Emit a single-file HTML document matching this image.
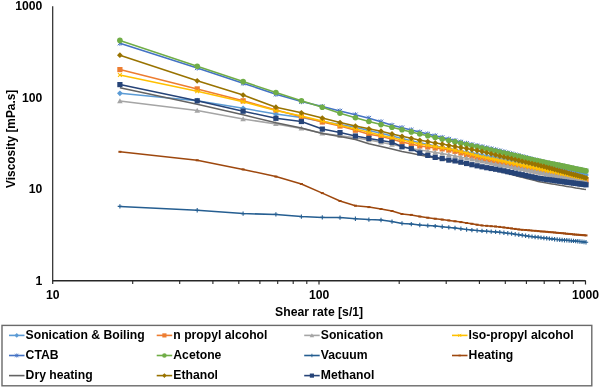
<!DOCTYPE html>
<html><head><meta charset="utf-8"><style>
html,body{margin:0;padding:0;background:#fff;}
svg{display:block;will-change:transform;}
.t{font-family:"Liberation Sans",sans-serif;font-weight:bold;font-size:12.2px;fill:#000;}
</style></head><body>
<svg width="600" height="388" viewBox="0 0 600 388">
<rect width="600" height="388" fill="#fff"/>
<path d="M52.7 6.2V284" stroke="#262626" stroke-width="1.2" fill="none"/><path d="M52.2 280.8H585.8" stroke="#262626" stroke-width="1.4" fill="none"/><path d="M132.7 281V284" stroke="#262626" stroke-width="1.1"/><path d="M179.7 281V284" stroke="#262626" stroke-width="1.1"/><path d="M212.9 281V284" stroke="#262626" stroke-width="1.1"/><path d="M238.8 281V284" stroke="#262626" stroke-width="1.1"/><path d="M259.9 281V284" stroke="#262626" stroke-width="1.1"/><path d="M277.7 281V284" stroke="#262626" stroke-width="1.1"/><path d="M293.2 281V284" stroke="#262626" stroke-width="1.1"/><path d="M306.8 281V284" stroke="#262626" stroke-width="1.1"/><path d="M399.2 281V284" stroke="#262626" stroke-width="1.1"/><path d="M446.2 281V284" stroke="#262626" stroke-width="1.1"/><path d="M479.4 281V284" stroke="#262626" stroke-width="1.1"/><path d="M505.3 281V284" stroke="#262626" stroke-width="1.1"/><path d="M526.4 281V284" stroke="#262626" stroke-width="1.1"/><path d="M544.2 281V284" stroke="#262626" stroke-width="1.1"/><path d="M559.7 281V284" stroke="#262626" stroke-width="1.1"/><path d="M573.3 281V284" stroke="#262626" stroke-width="1.1"/><path d="M319.0 281V284.5" stroke="#262626" stroke-width="1.2"/><path d="M585.5 281V284.5" stroke="#262626" stroke-width="1.2"/>
<g><path d="M119.9 93.3 L197.2 100.7 L243.1 108.3 L275.9 114.1 L301.4 117.6 L322.3 121.6 L340.0 124.6 L355.4 127.3 L368.9 130.4 L381.0 133.3 L392.0 136.0 L402.0 138.5 L411.3 140.7 L419.8 142.8 L427.8 144.4 L435.2 145.9 L442.2 147.2 L448.8 148.5 L455.0 149.7 L460.9 150.9 L466.6 152.0 L471.9 153.0 L477.1 154.0 L482.0 155.0 L486.7 155.9 L491.2 156.7 L495.6 157.6 L499.8 158.4 L503.9 159.1 L507.8 159.9 L511.6 160.6 L515.2 161.3 L518.8 162.0 L522.2 162.6 L525.6 163.3 L528.8 163.9 L532.0 164.5 L535.1 165.1 L538.1 165.6 L541.0 166.2 L543.9 166.7 L546.7 167.3 L549.4 167.8 L552.0 168.3 L554.6 168.8 L557.2 169.3 L559.7 169.8 L562.1 170.3 L564.5 170.7 L566.8 171.2 L569.1 171.6 L571.3 172.1 L573.5 172.5 L575.7 172.9 L577.8 173.3 L579.9 173.7 L582.0 174.1 L584.0 174.5 L586.0 174.9" stroke="#5B9BD5" stroke-width="1.55" fill="none" stroke-linejoin="round"/><path d="M119.9 90.4L122.8 93.3L119.9 96.2L117.0 93.3Z" fill="#5B9BD5"/><path d="M197.2 97.8L200.1 100.7L197.2 103.6L194.3 100.7Z" fill="#5B9BD5"/><path d="M243.1 105.4L246.0 108.3L243.1 111.2L240.2 108.3Z" fill="#5B9BD5"/><path d="M275.9 111.2L278.8 114.1L275.9 117.0L273.0 114.1Z" fill="#5B9BD5"/><path d="M301.4 114.7L304.3 117.6L301.4 120.5L298.5 117.6Z" fill="#5B9BD5"/><path d="M322.3 118.7L325.2 121.6L322.3 124.5L319.4 121.6Z" fill="#5B9BD5"/><path d="M340.0 121.7L342.9 124.6L340.0 127.5L337.1 124.6Z" fill="#5B9BD5"/><path d="M355.4 124.4L358.3 127.3L355.4 130.2L352.5 127.3Z" fill="#5B9BD5"/><path d="M368.9 127.5L371.8 130.4L368.9 133.3L366.0 130.4Z" fill="#5B9BD5"/><path d="M381.0 130.4L383.9 133.3L381.0 136.2L378.1 133.3Z" fill="#5B9BD5"/><path d="M392.0 133.1L394.9 136.0L392.0 138.9L389.1 136.0Z" fill="#5B9BD5"/><path d="M402.0 135.6L404.9 138.5L402.0 141.4L399.1 138.5Z" fill="#5B9BD5"/><path d="M411.3 137.8L414.2 140.7L411.3 143.6L408.4 140.7Z" fill="#5B9BD5"/><path d="M419.8 139.9L422.7 142.8L419.8 145.7L416.9 142.8Z" fill="#5B9BD5"/><path d="M427.8 141.5L430.7 144.4L427.8 147.3L424.9 144.4Z" fill="#5B9BD5"/><path d="M435.2 143.0L438.1 145.9L435.2 148.8L432.3 145.9Z" fill="#5B9BD5"/><path d="M442.2 144.3L445.1 147.2L442.2 150.1L439.3 147.2Z" fill="#5B9BD5"/><path d="M448.8 145.6L451.7 148.5L448.8 151.4L445.9 148.5Z" fill="#5B9BD5"/><path d="M455.0 146.8L457.9 149.7L455.0 152.6L452.1 149.7Z" fill="#5B9BD5"/><path d="M460.9 148.0L463.8 150.9L460.9 153.8L458.0 150.9Z" fill="#5B9BD5"/><path d="M466.6 149.1L469.5 152.0L466.6 154.9L463.7 152.0Z" fill="#5B9BD5"/><path d="M471.9 150.1L474.8 153.0L471.9 155.9L469.0 153.0Z" fill="#5B9BD5"/><path d="M477.1 151.1L480.0 154.0L477.1 156.9L474.2 154.0Z" fill="#5B9BD5"/><path d="M482.0 152.1L484.9 155.0L482.0 157.9L479.1 155.0Z" fill="#5B9BD5"/><path d="M486.7 153.0L489.6 155.9L486.7 158.8L483.8 155.9Z" fill="#5B9BD5"/><path d="M491.2 153.8L494.1 156.7L491.2 159.6L488.3 156.7Z" fill="#5B9BD5"/><path d="M495.6 154.7L498.5 157.6L495.6 160.5L492.7 157.6Z" fill="#5B9BD5"/><path d="M499.8 155.5L502.7 158.4L499.8 161.3L496.9 158.4Z" fill="#5B9BD5"/><path d="M503.9 156.2L506.8 159.1L503.9 162.0L501.0 159.1Z" fill="#5B9BD5"/><path d="M507.8 157.0L510.7 159.9L507.8 162.8L504.9 159.9Z" fill="#5B9BD5"/><path d="M511.6 157.7L514.5 160.6L511.6 163.5L508.7 160.6Z" fill="#5B9BD5"/><path d="M515.2 158.4L518.1 161.3L515.2 164.2L512.3 161.3Z" fill="#5B9BD5"/><path d="M518.8 159.1L521.7 162.0L518.8 164.9L515.9 162.0Z" fill="#5B9BD5"/><path d="M522.2 159.7L525.1 162.6L522.2 165.5L519.3 162.6Z" fill="#5B9BD5"/><path d="M525.6 160.4L528.5 163.3L525.6 166.2L522.7 163.3Z" fill="#5B9BD5"/><path d="M528.8 161.0L531.7 163.9L528.8 166.8L525.9 163.9Z" fill="#5B9BD5"/><path d="M532.0 161.6L534.9 164.5L532.0 167.4L529.1 164.5Z" fill="#5B9BD5"/><path d="M535.1 162.2L538.0 165.1L535.1 168.0L532.2 165.1Z" fill="#5B9BD5"/><path d="M538.1 162.7L541.0 165.6L538.1 168.5L535.2 165.6Z" fill="#5B9BD5"/><path d="M541.0 163.3L543.9 166.2L541.0 169.1L538.1 166.2Z" fill="#5B9BD5"/><path d="M543.9 163.8L546.8 166.7L543.9 169.6L541.0 166.7Z" fill="#5B9BD5"/><path d="M546.7 164.4L549.6 167.3L546.7 170.2L543.8 167.3Z" fill="#5B9BD5"/><path d="M549.4 164.9L552.3 167.8L549.4 170.7L546.5 167.8Z" fill="#5B9BD5"/><path d="M552.0 165.4L554.9 168.3L552.0 171.2L549.1 168.3Z" fill="#5B9BD5"/><path d="M554.6 165.9L557.5 168.8L554.6 171.7L551.7 168.8Z" fill="#5B9BD5"/><path d="M557.2 166.4L560.1 169.3L557.2 172.2L554.3 169.3Z" fill="#5B9BD5"/><path d="M559.7 166.9L562.6 169.8L559.7 172.7L556.8 169.8Z" fill="#5B9BD5"/><path d="M562.1 167.4L565.0 170.3L562.1 173.2L559.2 170.3Z" fill="#5B9BD5"/><path d="M564.5 167.8L567.4 170.7L564.5 173.6L561.6 170.7Z" fill="#5B9BD5"/><path d="M566.8 168.3L569.7 171.2L566.8 174.1L563.9 171.2Z" fill="#5B9BD5"/><path d="M569.1 168.7L572.0 171.6L569.1 174.5L566.2 171.6Z" fill="#5B9BD5"/><path d="M571.3 169.2L574.2 172.1L571.3 175.0L568.4 172.1Z" fill="#5B9BD5"/><path d="M573.5 169.6L576.4 172.5L573.5 175.4L570.6 172.5Z" fill="#5B9BD5"/><path d="M575.7 170.0L578.6 172.9L575.7 175.8L572.8 172.9Z" fill="#5B9BD5"/><path d="M577.8 170.4L580.7 173.3L577.8 176.2L574.9 173.3Z" fill="#5B9BD5"/><path d="M579.9 170.8L582.8 173.7L579.9 176.6L577.0 173.7Z" fill="#5B9BD5"/><path d="M582.0 171.2L584.9 174.1L582.0 177.0L579.1 174.1Z" fill="#5B9BD5"/><path d="M584.0 171.6L586.9 174.5L584.0 177.4L581.1 174.5Z" fill="#5B9BD5"/><path d="M586.0 172.0L588.9 174.9L586.0 177.8L583.1 174.9Z" fill="#5B9BD5"/></g><g><path d="M119.9 69.6 L197.2 88.9 L243.1 100.8 L275.9 110.0 L301.4 116.7 L322.3 122.0 L340.0 126.0 L355.4 130.2 L368.9 134.3 L381.0 136.2 L392.0 139.2 L402.0 141.9 L411.3 144.0 L419.8 146.0 L427.8 147.0 L435.2 148.0 L442.2 148.9 L448.8 150.1 L455.0 151.3 L460.9 153.0 L466.6 154.6 L471.9 156.1 L477.1 157.6 L482.0 158.9 L486.7 159.9 L491.2 160.9 L495.6 161.9 L499.8 162.9 L503.9 163.8 L507.8 164.7 L511.6 165.6 L515.2 166.4 L518.8 167.2 L522.2 168.0 L525.6 168.7 L528.8 169.5 L532.0 170.2 L535.1 170.9 L538.1 171.6 L541.0 172.2 L543.9 172.7 L546.7 173.2 L549.4 173.7 L552.0 174.2 L554.6 174.7 L557.2 175.1 L559.7 175.6 L562.1 176.0 L564.5 176.5 L566.8 176.9 L569.1 177.3 L571.3 177.7 L573.5 178.1 L575.7 178.5 L577.8 178.9 L579.9 179.3 L582.0 179.7 L584.0 180.0 L586.0 180.4" stroke="#ED7D31" stroke-width="1.55" fill="none" stroke-linejoin="round"/><rect x="117.3" y="67.0" width="5.2" height="5.2" fill="#ED7D31"/><rect x="194.6" y="86.3" width="5.2" height="5.2" fill="#ED7D31"/><rect x="240.5" y="98.2" width="5.2" height="5.2" fill="#ED7D31"/><rect x="273.3" y="107.4" width="5.2" height="5.2" fill="#ED7D31"/><rect x="298.8" y="114.1" width="5.2" height="5.2" fill="#ED7D31"/><rect x="319.7" y="119.4" width="5.2" height="5.2" fill="#ED7D31"/><rect x="337.4" y="123.4" width="5.2" height="5.2" fill="#ED7D31"/><rect x="352.8" y="127.6" width="5.2" height="5.2" fill="#ED7D31"/><rect x="366.3" y="131.7" width="5.2" height="5.2" fill="#ED7D31"/><rect x="378.4" y="133.6" width="5.2" height="5.2" fill="#ED7D31"/><rect x="389.4" y="136.6" width="5.2" height="5.2" fill="#ED7D31"/><rect x="399.4" y="139.3" width="5.2" height="5.2" fill="#ED7D31"/><rect x="408.7" y="141.4" width="5.2" height="5.2" fill="#ED7D31"/><rect x="417.2" y="143.4" width="5.2" height="5.2" fill="#ED7D31"/><rect x="425.2" y="144.4" width="5.2" height="5.2" fill="#ED7D31"/><rect x="432.6" y="145.4" width="5.2" height="5.2" fill="#ED7D31"/><rect x="439.6" y="146.3" width="5.2" height="5.2" fill="#ED7D31"/><rect x="446.2" y="147.5" width="5.2" height="5.2" fill="#ED7D31"/><rect x="452.4" y="148.7" width="5.2" height="5.2" fill="#ED7D31"/><rect x="458.3" y="150.4" width="5.2" height="5.2" fill="#ED7D31"/><rect x="464.0" y="152.0" width="5.2" height="5.2" fill="#ED7D31"/><rect x="469.3" y="153.5" width="5.2" height="5.2" fill="#ED7D31"/><rect x="474.5" y="155.0" width="5.2" height="5.2" fill="#ED7D31"/><rect x="479.4" y="156.3" width="5.2" height="5.2" fill="#ED7D31"/><rect x="484.1" y="157.3" width="5.2" height="5.2" fill="#ED7D31"/><rect x="488.6" y="158.3" width="5.2" height="5.2" fill="#ED7D31"/><rect x="493.0" y="159.3" width="5.2" height="5.2" fill="#ED7D31"/><rect x="497.2" y="160.3" width="5.2" height="5.2" fill="#ED7D31"/><rect x="501.3" y="161.2" width="5.2" height="5.2" fill="#ED7D31"/><rect x="505.2" y="162.1" width="5.2" height="5.2" fill="#ED7D31"/><rect x="509.0" y="163.0" width="5.2" height="5.2" fill="#ED7D31"/><rect x="512.6" y="163.8" width="5.2" height="5.2" fill="#ED7D31"/><rect x="516.2" y="164.6" width="5.2" height="5.2" fill="#ED7D31"/><rect x="519.6" y="165.4" width="5.2" height="5.2" fill="#ED7D31"/><rect x="523.0" y="166.1" width="5.2" height="5.2" fill="#ED7D31"/><rect x="526.2" y="166.9" width="5.2" height="5.2" fill="#ED7D31"/><rect x="529.4" y="167.6" width="5.2" height="5.2" fill="#ED7D31"/><rect x="532.5" y="168.3" width="5.2" height="5.2" fill="#ED7D31"/><rect x="535.5" y="169.0" width="5.2" height="5.2" fill="#ED7D31"/><rect x="538.4" y="169.6" width="5.2" height="5.2" fill="#ED7D31"/><rect x="541.3" y="170.1" width="5.2" height="5.2" fill="#ED7D31"/><rect x="544.1" y="170.6" width="5.2" height="5.2" fill="#ED7D31"/><rect x="546.8" y="171.1" width="5.2" height="5.2" fill="#ED7D31"/><rect x="549.4" y="171.6" width="5.2" height="5.2" fill="#ED7D31"/><rect x="552.0" y="172.1" width="5.2" height="5.2" fill="#ED7D31"/><rect x="554.6" y="172.5" width="5.2" height="5.2" fill="#ED7D31"/><rect x="557.1" y="173.0" width="5.2" height="5.2" fill="#ED7D31"/><rect x="559.5" y="173.4" width="5.2" height="5.2" fill="#ED7D31"/><rect x="561.9" y="173.9" width="5.2" height="5.2" fill="#ED7D31"/><rect x="564.2" y="174.3" width="5.2" height="5.2" fill="#ED7D31"/><rect x="566.5" y="174.7" width="5.2" height="5.2" fill="#ED7D31"/><rect x="568.7" y="175.1" width="5.2" height="5.2" fill="#ED7D31"/><rect x="570.9" y="175.5" width="5.2" height="5.2" fill="#ED7D31"/><rect x="573.1" y="175.9" width="5.2" height="5.2" fill="#ED7D31"/><rect x="575.2" y="176.3" width="5.2" height="5.2" fill="#ED7D31"/><rect x="577.3" y="176.7" width="5.2" height="5.2" fill="#ED7D31"/><rect x="579.4" y="177.1" width="5.2" height="5.2" fill="#ED7D31"/><rect x="581.4" y="177.4" width="5.2" height="5.2" fill="#ED7D31"/><rect x="583.4" y="177.8" width="5.2" height="5.2" fill="#ED7D31"/></g><g><path d="M119.9 101.1 L197.2 110.5 L243.1 119.0 L275.9 123.9 L301.4 128.4 L322.3 133.3 L340.0 135.7 L355.4 137.7 L368.9 140.1 L381.0 142.2 L392.0 144.5 L402.0 146.5 L411.3 148.4 L419.8 150.1 L427.8 151.3 L435.2 152.4 L442.2 153.5 L448.8 154.8 L455.0 156.0 L460.9 157.2 L466.6 158.3 L471.9 159.4 L477.1 160.4 L482.0 161.4 L486.7 162.3 L491.2 163.2 L495.6 164.0 L499.8 164.8 L503.9 165.6 L507.8 166.3 L511.6 167.0 L515.2 167.8 L518.8 168.4 L522.2 169.1 L525.6 169.7 L528.8 170.4 L532.0 171.0 L535.1 171.6 L538.1 172.1 L541.0 172.7 L543.9 173.3 L546.7 173.9 L549.4 174.4 L552.0 175.0 L554.6 175.5 L557.2 176.0 L559.7 176.6 L562.1 177.1 L564.5 177.6 L566.8 178.0 L569.1 178.5 L571.3 179.0 L573.5 179.4 L575.7 179.9 L577.8 180.3 L579.9 180.7 L582.0 181.2 L584.0 181.6 L586.0 182.0" stroke="#A5A5A5" stroke-width="1.55" fill="none" stroke-linejoin="round"/><path d="M119.9 98.3L122.7 103.3L117.1 103.3Z" fill="#A5A5A5"/><path d="M197.2 107.7L200.0 112.8L194.4 112.8Z" fill="#A5A5A5"/><path d="M243.1 116.2L245.9 121.3L240.3 121.3Z" fill="#A5A5A5"/><path d="M275.9 121.1L278.7 126.1L273.1 126.1Z" fill="#A5A5A5"/><path d="M301.4 125.6L304.2 130.6L298.6 130.6Z" fill="#A5A5A5"/><path d="M322.3 130.5L325.1 135.6L319.5 135.6Z" fill="#A5A5A5"/><path d="M340.0 132.9L342.8 137.9L337.2 137.9Z" fill="#A5A5A5"/><path d="M355.4 134.9L358.2 140.0L352.6 140.0Z" fill="#A5A5A5"/><path d="M368.9 137.3L371.7 142.3L366.1 142.3Z" fill="#A5A5A5"/><path d="M381.0 139.4L383.8 144.5L378.2 144.5Z" fill="#A5A5A5"/><path d="M392.0 141.7L394.8 146.7L389.2 146.7Z" fill="#A5A5A5"/><path d="M402.0 143.7L404.8 148.8L399.2 148.8Z" fill="#A5A5A5"/><path d="M411.3 145.6L414.1 150.7L408.5 150.7Z" fill="#A5A5A5"/><path d="M419.8 147.3L422.6 152.4L417.0 152.4Z" fill="#A5A5A5"/><path d="M427.8 148.5L430.6 153.6L425.0 153.6Z" fill="#A5A5A5"/><path d="M435.2 149.6L438.0 154.7L432.4 154.7Z" fill="#A5A5A5"/><path d="M442.2 150.7L445.0 155.8L439.4 155.8Z" fill="#A5A5A5"/><path d="M448.8 152.0L451.6 157.0L446.0 157.0Z" fill="#A5A5A5"/><path d="M455.0 153.2L457.8 158.2L452.2 158.2Z" fill="#A5A5A5"/><path d="M460.9 154.4L463.7 159.4L458.1 159.4Z" fill="#A5A5A5"/><path d="M466.6 155.5L469.4 160.6L463.8 160.6Z" fill="#A5A5A5"/><path d="M471.9 156.6L474.7 161.6L469.1 161.6Z" fill="#A5A5A5"/><path d="M477.1 157.6L479.9 162.7L474.3 162.7Z" fill="#A5A5A5"/><path d="M482.0 158.6L484.8 163.6L479.2 163.6Z" fill="#A5A5A5"/><path d="M486.7 159.5L489.5 164.5L483.9 164.5Z" fill="#A5A5A5"/><path d="M491.2 160.4L494.0 165.4L488.4 165.4Z" fill="#A5A5A5"/><path d="M495.6 161.2L498.4 166.2L492.8 166.2Z" fill="#A5A5A5"/><path d="M499.8 162.0L502.6 167.0L497.0 167.0Z" fill="#A5A5A5"/><path d="M503.9 162.8L506.7 167.8L501.1 167.8Z" fill="#A5A5A5"/><path d="M507.8 163.5L510.6 168.6L505.0 168.6Z" fill="#A5A5A5"/><path d="M511.6 164.2L514.4 169.3L508.8 169.3Z" fill="#A5A5A5"/><path d="M515.2 165.0L518.0 170.0L512.4 170.0Z" fill="#A5A5A5"/><path d="M518.8 165.6L521.6 170.7L516.0 170.7Z" fill="#A5A5A5"/><path d="M522.2 166.3L525.0 171.3L519.4 171.3Z" fill="#A5A5A5"/><path d="M525.6 166.9L528.4 172.0L522.8 172.0Z" fill="#A5A5A5"/><path d="M528.8 167.6L531.6 172.6L526.0 172.6Z" fill="#A5A5A5"/><path d="M532.0 168.2L534.8 173.2L529.2 173.2Z" fill="#A5A5A5"/><path d="M535.1 168.8L537.9 173.8L532.3 173.8Z" fill="#A5A5A5"/><path d="M538.1 169.3L540.9 174.4L535.3 174.4Z" fill="#A5A5A5"/><path d="M541.0 169.9L543.8 174.9L538.2 174.9Z" fill="#A5A5A5"/><path d="M543.9 170.5L546.7 175.5L541.1 175.5Z" fill="#A5A5A5"/><path d="M546.7 171.1L549.5 176.1L543.9 176.1Z" fill="#A5A5A5"/><path d="M549.4 171.6L552.2 176.7L546.6 176.7Z" fill="#A5A5A5"/><path d="M552.0 172.2L554.8 177.2L549.2 177.2Z" fill="#A5A5A5"/><path d="M554.6 172.7L557.4 177.8L551.8 177.8Z" fill="#A5A5A5"/><path d="M557.2 173.2L560.0 178.3L554.4 178.3Z" fill="#A5A5A5"/><path d="M559.7 173.8L562.5 178.8L556.9 178.8Z" fill="#A5A5A5"/><path d="M562.1 174.3L564.9 179.3L559.3 179.3Z" fill="#A5A5A5"/><path d="M564.5 174.8L567.3 179.8L561.7 179.8Z" fill="#A5A5A5"/><path d="M566.8 175.2L569.6 180.3L564.0 180.3Z" fill="#A5A5A5"/><path d="M569.1 175.7L571.9 180.8L566.3 180.8Z" fill="#A5A5A5"/><path d="M571.3 176.2L574.1 181.2L568.5 181.2Z" fill="#A5A5A5"/><path d="M573.5 176.6L576.3 181.7L570.7 181.7Z" fill="#A5A5A5"/><path d="M575.7 177.1L578.5 182.1L572.9 182.1Z" fill="#A5A5A5"/><path d="M577.8 177.5L580.6 182.6L575.0 182.6Z" fill="#A5A5A5"/><path d="M579.9 177.9L582.7 183.0L577.1 183.0Z" fill="#A5A5A5"/><path d="M582.0 178.4L584.8 183.4L579.2 183.4Z" fill="#A5A5A5"/><path d="M584.0 178.8L586.8 183.8L581.2 183.8Z" fill="#A5A5A5"/><path d="M586.0 179.2L588.8 184.2L583.2 184.2Z" fill="#A5A5A5"/></g><g><path d="M119.9 75.0 L197.2 91.2 L243.1 101.7 L275.9 110.5 L301.4 116.1 L322.3 121.0 L340.0 125.3 L355.4 129.0 L368.9 132.3 L381.0 135.2 L392.0 137.7 L402.0 139.9 L411.3 142.0 L419.8 143.9 L427.8 145.2 L435.2 146.5 L442.2 147.7 L448.8 148.8 L455.0 150.2 L460.9 151.7 L466.6 153.0 L471.9 154.3 L477.1 155.6 L482.0 156.7 L486.7 157.7 L491.2 158.7 L495.6 159.6 L499.8 160.5 L503.9 161.3 L507.8 162.2 L511.6 163.0 L515.2 163.8 L518.8 164.5 L522.2 165.2 L525.6 165.9 L528.8 166.6 L532.0 167.3 L535.1 168.0 L538.1 168.6 L541.0 169.2 L543.9 169.8 L546.7 170.4 L549.4 170.9 L552.0 171.5 L554.6 172.0 L557.2 172.5 L559.7 173.1 L562.1 173.6 L564.5 174.1 L566.8 174.5 L569.1 175.0 L571.3 175.5 L573.5 175.9 L575.7 176.4 L577.8 176.8 L579.9 177.2 L582.0 177.7 L584.0 178.1 L586.0 178.5" stroke="#FFC000" stroke-width="1.55" fill="none" stroke-linejoin="round"/><path d="M118.0 73.1L121.8 76.9M121.8 73.1L118.0 76.9" stroke="#FFC000" stroke-width="1.2" fill="none"/><path d="M195.3 89.3L199.1 93.1M199.1 89.3L195.3 93.1" stroke="#FFC000" stroke-width="1.2" fill="none"/><path d="M241.2 99.8L245.0 103.6M245.0 99.8L241.2 103.6" stroke="#FFC000" stroke-width="1.2" fill="none"/><path d="M274.0 108.6L277.8 112.4M277.8 108.6L274.0 112.4" stroke="#FFC000" stroke-width="1.2" fill="none"/><path d="M299.5 114.2L303.3 118.0M303.3 114.2L299.5 118.0" stroke="#FFC000" stroke-width="1.2" fill="none"/><path d="M320.4 119.1L324.2 122.9M324.2 119.1L320.4 122.9" stroke="#FFC000" stroke-width="1.2" fill="none"/><path d="M338.1 123.4L341.9 127.2M341.9 123.4L338.1 127.2" stroke="#FFC000" stroke-width="1.2" fill="none"/><path d="M353.5 127.1L357.3 130.9M357.3 127.1L353.5 130.9" stroke="#FFC000" stroke-width="1.2" fill="none"/><path d="M367.0 130.4L370.8 134.2M370.8 130.4L367.0 134.2" stroke="#FFC000" stroke-width="1.2" fill="none"/><path d="M379.1 133.3L382.9 137.1M382.9 133.3L379.1 137.1" stroke="#FFC000" stroke-width="1.2" fill="none"/><path d="M390.1 135.8L393.9 139.6M393.9 135.8L390.1 139.6" stroke="#FFC000" stroke-width="1.2" fill="none"/><path d="M400.1 138.0L403.9 141.8M403.9 138.0L400.1 141.8" stroke="#FFC000" stroke-width="1.2" fill="none"/><path d="M409.4 140.1L413.2 143.9M413.2 140.1L409.4 143.9" stroke="#FFC000" stroke-width="1.2" fill="none"/><path d="M417.9 142.0L421.7 145.8M421.7 142.0L417.9 145.8" stroke="#FFC000" stroke-width="1.2" fill="none"/><path d="M425.9 143.3L429.7 147.1M429.7 143.3L425.9 147.1" stroke="#FFC000" stroke-width="1.2" fill="none"/><path d="M433.3 144.6L437.1 148.4M437.1 144.6L433.3 148.4" stroke="#FFC000" stroke-width="1.2" fill="none"/><path d="M440.3 145.8L444.1 149.6M444.1 145.8L440.3 149.6" stroke="#FFC000" stroke-width="1.2" fill="none"/><path d="M446.9 146.9L450.7 150.7M450.7 146.9L446.9 150.7" stroke="#FFC000" stroke-width="1.2" fill="none"/><path d="M453.1 148.3L456.9 152.1M456.9 148.3L453.1 152.1" stroke="#FFC000" stroke-width="1.2" fill="none"/><path d="M459.0 149.8L462.8 153.6M462.8 149.8L459.0 153.6" stroke="#FFC000" stroke-width="1.2" fill="none"/><path d="M464.7 151.1L468.5 154.9M468.5 151.1L464.7 154.9" stroke="#FFC000" stroke-width="1.2" fill="none"/><path d="M470.0 152.4L473.8 156.2M473.8 152.4L470.0 156.2" stroke="#FFC000" stroke-width="1.2" fill="none"/><path d="M475.2 153.7L479.0 157.5M479.0 153.7L475.2 157.5" stroke="#FFC000" stroke-width="1.2" fill="none"/><path d="M480.1 154.8L483.9 158.6M483.9 154.8L480.1 158.6" stroke="#FFC000" stroke-width="1.2" fill="none"/><path d="M484.8 155.8L488.6 159.6M488.6 155.8L484.8 159.6" stroke="#FFC000" stroke-width="1.2" fill="none"/><path d="M489.3 156.8L493.1 160.6M493.1 156.8L489.3 160.6" stroke="#FFC000" stroke-width="1.2" fill="none"/><path d="M493.7 157.7L497.5 161.5M497.5 157.7L493.7 161.5" stroke="#FFC000" stroke-width="1.2" fill="none"/><path d="M497.9 158.6L501.7 162.4M501.7 158.6L497.9 162.4" stroke="#FFC000" stroke-width="1.2" fill="none"/><path d="M502.0 159.4L505.8 163.2M505.8 159.4L502.0 163.2" stroke="#FFC000" stroke-width="1.2" fill="none"/><path d="M505.9 160.3L509.7 164.1M509.7 160.3L505.9 164.1" stroke="#FFC000" stroke-width="1.2" fill="none"/><path d="M509.7 161.1L513.5 164.9M513.5 161.1L509.7 164.9" stroke="#FFC000" stroke-width="1.2" fill="none"/><path d="M513.3 161.9L517.1 165.7M517.1 161.9L513.3 165.7" stroke="#FFC000" stroke-width="1.2" fill="none"/><path d="M516.9 162.6L520.7 166.4M520.7 162.6L516.9 166.4" stroke="#FFC000" stroke-width="1.2" fill="none"/><path d="M520.3 163.3L524.1 167.1M524.1 163.3L520.3 167.1" stroke="#FFC000" stroke-width="1.2" fill="none"/><path d="M523.7 164.0L527.5 167.8M527.5 164.0L523.7 167.8" stroke="#FFC000" stroke-width="1.2" fill="none"/><path d="M526.9 164.7L530.7 168.5M530.7 164.7L526.9 168.5" stroke="#FFC000" stroke-width="1.2" fill="none"/><path d="M530.1 165.4L533.9 169.2M533.9 165.4L530.1 169.2" stroke="#FFC000" stroke-width="1.2" fill="none"/><path d="M533.2 166.1L537.0 169.9M537.0 166.1L533.2 169.9" stroke="#FFC000" stroke-width="1.2" fill="none"/><path d="M536.2 166.7L540.0 170.5M540.0 166.7L536.2 170.5" stroke="#FFC000" stroke-width="1.2" fill="none"/><path d="M539.1 167.3L542.9 171.1M542.9 167.3L539.1 171.1" stroke="#FFC000" stroke-width="1.2" fill="none"/><path d="M542.0 167.9L545.8 171.7M545.8 167.9L542.0 171.7" stroke="#FFC000" stroke-width="1.2" fill="none"/><path d="M544.8 168.5L548.6 172.3M548.6 168.5L544.8 172.3" stroke="#FFC000" stroke-width="1.2" fill="none"/><path d="M547.5 169.0L551.3 172.8M551.3 169.0L547.5 172.8" stroke="#FFC000" stroke-width="1.2" fill="none"/><path d="M550.1 169.6L553.9 173.4M553.9 169.6L550.1 173.4" stroke="#FFC000" stroke-width="1.2" fill="none"/><path d="M552.7 170.1L556.5 173.9M556.5 170.1L552.7 173.9" stroke="#FFC000" stroke-width="1.2" fill="none"/><path d="M555.3 170.6L559.1 174.4M559.1 170.6L555.3 174.4" stroke="#FFC000" stroke-width="1.2" fill="none"/><path d="M557.8 171.2L561.6 175.0M561.6 171.2L557.8 175.0" stroke="#FFC000" stroke-width="1.2" fill="none"/><path d="M560.2 171.7L564.0 175.5M564.0 171.7L560.2 175.5" stroke="#FFC000" stroke-width="1.2" fill="none"/><path d="M562.6 172.2L566.4 176.0M566.4 172.2L562.6 176.0" stroke="#FFC000" stroke-width="1.2" fill="none"/><path d="M564.9 172.6L568.7 176.4M568.7 172.6L564.9 176.4" stroke="#FFC000" stroke-width="1.2" fill="none"/><path d="M567.2 173.1L571.0 176.9M571.0 173.1L567.2 176.9" stroke="#FFC000" stroke-width="1.2" fill="none"/><path d="M569.4 173.6L573.2 177.4M573.2 173.6L569.4 177.4" stroke="#FFC000" stroke-width="1.2" fill="none"/><path d="M571.6 174.0L575.4 177.8M575.4 174.0L571.6 177.8" stroke="#FFC000" stroke-width="1.2" fill="none"/><path d="M573.8 174.5L577.6 178.3M577.6 174.5L573.8 178.3" stroke="#FFC000" stroke-width="1.2" fill="none"/><path d="M575.9 174.9L579.7 178.7M579.7 174.9L575.9 178.7" stroke="#FFC000" stroke-width="1.2" fill="none"/><path d="M578.0 175.3L581.8 179.1M581.8 175.3L578.0 179.1" stroke="#FFC000" stroke-width="1.2" fill="none"/><path d="M580.1 175.8L583.9 179.6M583.9 175.8L580.1 179.6" stroke="#FFC000" stroke-width="1.2" fill="none"/><path d="M582.1 176.2L585.9 180.0M585.9 176.2L582.1 180.0" stroke="#FFC000" stroke-width="1.2" fill="none"/><path d="M584.1 176.6L587.9 180.4M587.9 176.6L584.1 180.4" stroke="#FFC000" stroke-width="1.2" fill="none"/></g><g><path d="M119.9 43.2 L197.2 67.9 L243.1 83.2 L275.9 94.2 L301.4 101.6 L322.3 106.6 L340.0 111.0 L355.4 114.8 L368.9 118.2 L381.0 121.8 L392.0 125.3 L402.0 127.7 L411.3 130.0 L419.8 132.1 L427.8 134.0 L435.2 135.8 L442.2 137.5 L448.8 139.1 L455.0 140.6 L460.9 142.0 L466.6 143.4 L471.9 144.6 L477.1 145.7 L482.0 146.7 L486.7 147.8 L491.2 148.8 L495.6 149.8 L499.8 150.8 L503.9 151.8 L507.8 152.8 L511.6 153.8 L515.2 154.8 L518.8 155.7 L522.2 156.6 L525.6 157.5 L528.8 158.4 L532.0 159.2 L535.1 160.0 L538.1 160.8 L541.0 161.5 L543.9 162.1 L546.7 162.7 L549.4 163.3 L552.0 163.8 L554.6 164.4 L557.2 164.9 L559.7 165.4 L562.1 166.0 L564.5 166.5 L566.8 167.0 L569.1 167.4 L571.3 167.9 L573.5 168.4 L575.7 168.8 L577.8 169.3 L579.9 169.7 L582.0 170.1 L584.0 170.6 L586.0 171.0" stroke="#4472C4" stroke-width="1.55" fill="none" stroke-linejoin="round"/><path d="M117.7 41.0L122.1 45.4M122.1 41.0L117.7 45.4M119.9 40.6L119.9 45.8" stroke="#4472C4" stroke-width="1" fill="none"/><path d="M195.0 65.7L199.4 70.1M199.4 65.7L195.0 70.1M197.2 65.3L197.2 70.5" stroke="#4472C4" stroke-width="1" fill="none"/><path d="M240.9 81.0L245.3 85.4M245.3 81.0L240.9 85.4M243.1 80.6L243.1 85.8" stroke="#4472C4" stroke-width="1" fill="none"/><path d="M273.7 92.0L278.1 96.4M278.1 92.0L273.7 96.4M275.9 91.6L275.9 96.8" stroke="#4472C4" stroke-width="1" fill="none"/><path d="M299.2 99.4L303.6 103.8M303.6 99.4L299.2 103.8M301.4 99.0L301.4 104.2" stroke="#4472C4" stroke-width="1" fill="none"/><path d="M320.1 104.4L324.5 108.8M324.5 104.4L320.1 108.8M322.3 104.0L322.3 109.2" stroke="#4472C4" stroke-width="1" fill="none"/><path d="M337.8 108.8L342.2 113.2M342.2 108.8L337.8 113.2M340.0 108.4L340.0 113.6" stroke="#4472C4" stroke-width="1" fill="none"/><path d="M353.2 112.6L357.6 117.0M357.6 112.6L353.2 117.0M355.4 112.2L355.4 117.4" stroke="#4472C4" stroke-width="1" fill="none"/><path d="M366.7 116.0L371.1 120.4M371.1 116.0L366.7 120.4M368.9 115.6L368.9 120.8" stroke="#4472C4" stroke-width="1" fill="none"/><path d="M378.8 119.6L383.2 124.0M383.2 119.6L378.8 124.0M381.0 119.2L381.0 124.4" stroke="#4472C4" stroke-width="1" fill="none"/><path d="M389.8 123.1L394.2 127.5M394.2 123.1L389.8 127.5M392.0 122.7L392.0 127.9" stroke="#4472C4" stroke-width="1" fill="none"/><path d="M399.8 125.5L404.2 129.9M404.2 125.5L399.8 129.9M402.0 125.1L402.0 130.3" stroke="#4472C4" stroke-width="1" fill="none"/><path d="M409.1 127.8L413.5 132.2M413.5 127.8L409.1 132.2M411.3 127.4L411.3 132.6" stroke="#4472C4" stroke-width="1" fill="none"/><path d="M417.6 129.9L422.0 134.3M422.0 129.9L417.6 134.3M419.8 129.5L419.8 134.7" stroke="#4472C4" stroke-width="1" fill="none"/><path d="M425.6 131.8L430.0 136.2M430.0 131.8L425.6 136.2M427.8 131.4L427.8 136.6" stroke="#4472C4" stroke-width="1" fill="none"/><path d="M433.0 133.6L437.4 138.0M437.4 133.6L433.0 138.0M435.2 133.2L435.2 138.4" stroke="#4472C4" stroke-width="1" fill="none"/><path d="M440.0 135.3L444.4 139.7M444.4 135.3L440.0 139.7M442.2 134.9L442.2 140.1" stroke="#4472C4" stroke-width="1" fill="none"/><path d="M446.6 136.9L451.0 141.3M451.0 136.9L446.6 141.3M448.8 136.5L448.8 141.7" stroke="#4472C4" stroke-width="1" fill="none"/><path d="M452.8 138.4L457.2 142.8M457.2 138.4L452.8 142.8M455.0 138.0L455.0 143.2" stroke="#4472C4" stroke-width="1" fill="none"/><path d="M458.7 139.8L463.1 144.2M463.1 139.8L458.7 144.2M460.9 139.4L460.9 144.6" stroke="#4472C4" stroke-width="1" fill="none"/><path d="M464.4 141.2L468.8 145.6M468.8 141.2L464.4 145.6M466.6 140.8L466.6 146.0" stroke="#4472C4" stroke-width="1" fill="none"/><path d="M469.7 142.4L474.1 146.8M474.1 142.4L469.7 146.8M471.9 142.0L471.9 147.2" stroke="#4472C4" stroke-width="1" fill="none"/><path d="M474.9 143.5L479.3 147.9M479.3 143.5L474.9 147.9M477.1 143.1L477.1 148.3" stroke="#4472C4" stroke-width="1" fill="none"/><path d="M479.8 144.5L484.2 148.9M484.2 144.5L479.8 148.9M482.0 144.1L482.0 149.3" stroke="#4472C4" stroke-width="1" fill="none"/><path d="M484.5 145.6L488.9 150.0M488.9 145.6L484.5 150.0M486.7 145.2L486.7 150.4" stroke="#4472C4" stroke-width="1" fill="none"/><path d="M489.0 146.6L493.4 151.0M493.4 146.6L489.0 151.0M491.2 146.2L491.2 151.4" stroke="#4472C4" stroke-width="1" fill="none"/><path d="M493.4 147.6L497.8 152.0M497.8 147.6L493.4 152.0M495.6 147.2L495.6 152.4" stroke="#4472C4" stroke-width="1" fill="none"/><path d="M497.6 148.6L502.0 153.0M502.0 148.6L497.6 153.0M499.8 148.2L499.8 153.4" stroke="#4472C4" stroke-width="1" fill="none"/><path d="M501.7 149.6L506.1 154.0M506.1 149.6L501.7 154.0M503.9 149.2L503.9 154.4" stroke="#4472C4" stroke-width="1" fill="none"/><path d="M505.6 150.6L510.0 155.0M510.0 150.6L505.6 155.0M507.8 150.2L507.8 155.4" stroke="#4472C4" stroke-width="1" fill="none"/><path d="M509.4 151.6L513.8 156.0M513.8 151.6L509.4 156.0M511.6 151.2L511.6 156.4" stroke="#4472C4" stroke-width="1" fill="none"/><path d="M513.0 152.6L517.4 157.0M517.4 152.6L513.0 157.0M515.2 152.2L515.2 157.4" stroke="#4472C4" stroke-width="1" fill="none"/><path d="M516.6 153.5L521.0 157.9M521.0 153.5L516.6 157.9M518.8 153.1L518.8 158.3" stroke="#4472C4" stroke-width="1" fill="none"/><path d="M520.0 154.4L524.4 158.8M524.4 154.4L520.0 158.8M522.2 154.0L522.2 159.2" stroke="#4472C4" stroke-width="1" fill="none"/><path d="M523.4 155.3L527.8 159.7M527.8 155.3L523.4 159.7M525.6 154.9L525.6 160.1" stroke="#4472C4" stroke-width="1" fill="none"/><path d="M526.6 156.2L531.0 160.6M531.0 156.2L526.6 160.6M528.8 155.8L528.8 161.0" stroke="#4472C4" stroke-width="1" fill="none"/><path d="M529.8 157.0L534.2 161.4M534.2 157.0L529.8 161.4M532.0 156.6L532.0 161.8" stroke="#4472C4" stroke-width="1" fill="none"/><path d="M532.9 157.8L537.3 162.2M537.3 157.8L532.9 162.2M535.1 157.4L535.1 162.6" stroke="#4472C4" stroke-width="1" fill="none"/><path d="M535.9 158.6L540.3 163.0M540.3 158.6L535.9 163.0M538.1 158.2L538.1 163.4" stroke="#4472C4" stroke-width="1" fill="none"/><path d="M538.8 159.3L543.2 163.7M543.2 159.3L538.8 163.7M541.0 158.9L541.0 164.1" stroke="#4472C4" stroke-width="1" fill="none"/><path d="M541.7 159.9L546.1 164.3M546.1 159.9L541.7 164.3M543.9 159.5L543.9 164.7" stroke="#4472C4" stroke-width="1" fill="none"/><path d="M544.5 160.5L548.9 164.9M548.9 160.5L544.5 164.9M546.7 160.1L546.7 165.3" stroke="#4472C4" stroke-width="1" fill="none"/><path d="M547.2 161.1L551.6 165.5M551.6 161.1L547.2 165.5M549.4 160.7L549.4 165.9" stroke="#4472C4" stroke-width="1" fill="none"/><path d="M549.8 161.6L554.2 166.0M554.2 161.6L549.8 166.0M552.0 161.2L552.0 166.4" stroke="#4472C4" stroke-width="1" fill="none"/><path d="M552.4 162.2L556.8 166.6M556.8 162.2L552.4 166.6M554.6 161.8L554.6 167.0" stroke="#4472C4" stroke-width="1" fill="none"/><path d="M555.0 162.7L559.4 167.1M559.4 162.7L555.0 167.1M557.2 162.3L557.2 167.5" stroke="#4472C4" stroke-width="1" fill="none"/><path d="M557.5 163.2L561.9 167.6M561.9 163.2L557.5 167.6M559.7 162.8L559.7 168.0" stroke="#4472C4" stroke-width="1" fill="none"/><path d="M559.9 163.8L564.3 168.2M564.3 163.8L559.9 168.2M562.1 163.4L562.1 168.6" stroke="#4472C4" stroke-width="1" fill="none"/><path d="M562.3 164.3L566.7 168.7M566.7 164.3L562.3 168.7M564.5 163.9L564.5 169.1" stroke="#4472C4" stroke-width="1" fill="none"/><path d="M564.6 164.8L569.0 169.2M569.0 164.8L564.6 169.2M566.8 164.4L566.8 169.6" stroke="#4472C4" stroke-width="1" fill="none"/><path d="M566.9 165.2L571.3 169.6M571.3 165.2L566.9 169.6M569.1 164.8L569.1 170.0" stroke="#4472C4" stroke-width="1" fill="none"/><path d="M569.1 165.7L573.5 170.1M573.5 165.7L569.1 170.1M571.3 165.3L571.3 170.5" stroke="#4472C4" stroke-width="1" fill="none"/><path d="M571.3 166.2L575.7 170.6M575.7 166.2L571.3 170.6M573.5 165.8L573.5 171.0" stroke="#4472C4" stroke-width="1" fill="none"/><path d="M573.5 166.6L577.9 171.0M577.9 166.6L573.5 171.0M575.7 166.2L575.7 171.4" stroke="#4472C4" stroke-width="1" fill="none"/><path d="M575.6 167.1L580.0 171.5M580.0 167.1L575.6 171.5M577.8 166.7L577.8 171.9" stroke="#4472C4" stroke-width="1" fill="none"/><path d="M577.7 167.5L582.1 171.9M582.1 167.5L577.7 171.9M579.9 167.1L579.9 172.3" stroke="#4472C4" stroke-width="1" fill="none"/><path d="M579.8 167.9L584.2 172.3M584.2 167.9L579.8 172.3M582.0 167.5L582.0 172.7" stroke="#4472C4" stroke-width="1" fill="none"/><path d="M581.8 168.4L586.2 172.8M586.2 168.4L581.8 172.8M584.0 168.0L584.0 173.2" stroke="#4472C4" stroke-width="1" fill="none"/><path d="M583.8 168.8L588.2 173.2M588.2 168.8L583.8 173.2M586.0 168.4L586.0 173.6" stroke="#4472C4" stroke-width="1" fill="none"/></g><g><path d="M119.9 40.4 L197.2 66.3 L243.1 81.6 L275.9 92.5 L301.4 100.7 L322.3 107.3 L340.0 113.2 L355.4 117.7 L368.9 121.5 L381.0 124.6 L392.0 127.2 L402.0 129.7 L411.3 131.9 L419.8 134.0 L427.8 135.8 L435.2 137.5 L442.2 139.1 L448.8 140.5 L455.0 141.9 L460.9 143.2 L466.6 144.5 L471.9 145.7 L477.1 146.8 L482.0 148.0 L486.7 149.0 L491.2 150.1 L495.6 151.1 L499.8 152.1 L503.9 153.0 L507.8 153.9 L511.6 154.8 L515.2 155.6 L518.8 156.4 L522.2 157.2 L525.6 158.0 L528.8 158.7 L532.0 159.5 L535.1 160.2 L538.1 160.9 L541.0 161.5 L543.9 162.1 L546.7 162.7 L549.4 163.3 L552.0 163.8 L554.6 164.4 L557.2 164.9 L559.7 165.4 L562.1 165.9 L564.5 166.4 L566.8 166.9 L569.1 167.4 L571.3 167.8 L573.5 168.3 L575.7 168.8 L577.8 169.2 L579.9 169.6 L582.0 170.1 L584.0 170.5 L586.0 170.9" stroke="#70AD47" stroke-width="1.55" fill="none" stroke-linejoin="round"/><circle cx="119.9" cy="40.4" r="2.8" fill="#70AD47"/><circle cx="197.2" cy="66.3" r="2.8" fill="#70AD47"/><circle cx="243.1" cy="81.6" r="2.8" fill="#70AD47"/><circle cx="275.9" cy="92.5" r="2.8" fill="#70AD47"/><circle cx="301.4" cy="100.7" r="2.8" fill="#70AD47"/><circle cx="322.3" cy="107.3" r="2.8" fill="#70AD47"/><circle cx="340.0" cy="113.2" r="2.8" fill="#70AD47"/><circle cx="355.4" cy="117.7" r="2.8" fill="#70AD47"/><circle cx="368.9" cy="121.5" r="2.8" fill="#70AD47"/><circle cx="381.0" cy="124.6" r="2.8" fill="#70AD47"/><circle cx="392.0" cy="127.2" r="2.8" fill="#70AD47"/><circle cx="402.0" cy="129.7" r="2.8" fill="#70AD47"/><circle cx="411.3" cy="131.9" r="2.8" fill="#70AD47"/><circle cx="419.8" cy="134.0" r="2.8" fill="#70AD47"/><circle cx="427.8" cy="135.8" r="2.8" fill="#70AD47"/><circle cx="435.2" cy="137.5" r="2.8" fill="#70AD47"/><circle cx="442.2" cy="139.1" r="2.8" fill="#70AD47"/><circle cx="448.8" cy="140.5" r="2.8" fill="#70AD47"/><circle cx="455.0" cy="141.9" r="2.8" fill="#70AD47"/><circle cx="460.9" cy="143.2" r="2.8" fill="#70AD47"/><circle cx="466.6" cy="144.5" r="2.8" fill="#70AD47"/><circle cx="471.9" cy="145.7" r="2.8" fill="#70AD47"/><circle cx="477.1" cy="146.8" r="2.8" fill="#70AD47"/><circle cx="482.0" cy="148.0" r="2.8" fill="#70AD47"/><circle cx="486.7" cy="149.0" r="2.8" fill="#70AD47"/><circle cx="491.2" cy="150.1" r="2.8" fill="#70AD47"/><circle cx="495.6" cy="151.1" r="2.8" fill="#70AD47"/><circle cx="499.8" cy="152.1" r="2.8" fill="#70AD47"/><circle cx="503.9" cy="153.0" r="2.8" fill="#70AD47"/><circle cx="507.8" cy="153.9" r="2.8" fill="#70AD47"/><circle cx="511.6" cy="154.8" r="2.8" fill="#70AD47"/><circle cx="515.2" cy="155.6" r="2.8" fill="#70AD47"/><circle cx="518.8" cy="156.4" r="2.8" fill="#70AD47"/><circle cx="522.2" cy="157.2" r="2.8" fill="#70AD47"/><circle cx="525.6" cy="158.0" r="2.8" fill="#70AD47"/><circle cx="528.8" cy="158.7" r="2.8" fill="#70AD47"/><circle cx="532.0" cy="159.5" r="2.8" fill="#70AD47"/><circle cx="535.1" cy="160.2" r="2.8" fill="#70AD47"/><circle cx="538.1" cy="160.9" r="2.8" fill="#70AD47"/><circle cx="541.0" cy="161.5" r="2.8" fill="#70AD47"/><circle cx="543.9" cy="162.1" r="2.8" fill="#70AD47"/><circle cx="546.7" cy="162.7" r="2.8" fill="#70AD47"/><circle cx="549.4" cy="163.3" r="2.8" fill="#70AD47"/><circle cx="552.0" cy="163.8" r="2.8" fill="#70AD47"/><circle cx="554.6" cy="164.4" r="2.8" fill="#70AD47"/><circle cx="557.2" cy="164.9" r="2.8" fill="#70AD47"/><circle cx="559.7" cy="165.4" r="2.8" fill="#70AD47"/><circle cx="562.1" cy="165.9" r="2.8" fill="#70AD47"/><circle cx="564.5" cy="166.4" r="2.8" fill="#70AD47"/><circle cx="566.8" cy="166.9" r="2.8" fill="#70AD47"/><circle cx="569.1" cy="167.4" r="2.8" fill="#70AD47"/><circle cx="571.3" cy="167.8" r="2.8" fill="#70AD47"/><circle cx="573.5" cy="168.3" r="2.8" fill="#70AD47"/><circle cx="575.7" cy="168.8" r="2.8" fill="#70AD47"/><circle cx="577.8" cy="169.2" r="2.8" fill="#70AD47"/><circle cx="579.9" cy="169.6" r="2.8" fill="#70AD47"/><circle cx="582.0" cy="170.1" r="2.8" fill="#70AD47"/><circle cx="584.0" cy="170.5" r="2.8" fill="#70AD47"/><circle cx="586.0" cy="170.9" r="2.8" fill="#70AD47"/></g><g><path d="M119.9 206.4 L197.2 210.3 L243.1 213.6 L275.9 214.4 L301.4 216.6 L322.3 217.4 L340.0 217.6 L355.4 218.7 L368.9 219.6 L381.0 220.0 L392.0 221.6 L402.0 223.4 L411.3 224.1 L419.8 225.0 L427.8 225.6 L435.2 226.1 L442.2 226.7 L448.8 227.4 L455.0 228.0 L460.9 228.8 L466.6 229.5 L471.9 230.1 L477.1 230.5 L482.0 230.9 L486.7 231.3 L491.2 231.6 L495.6 231.9 L499.8 232.3 L503.9 232.7 L507.8 233.2 L511.6 233.6 L515.2 234.2 L518.8 234.7 L522.2 235.2 L525.6 235.7 L528.8 236.2 L532.0 236.6 L535.1 237.0 L538.1 237.3 L541.0 237.6 L543.9 238.0 L546.7 238.3 L549.4 238.6 L552.0 238.9 L554.6 239.2 L557.2 239.5 L559.7 239.8 L562.1 240.0 L564.5 240.2 L566.8 240.3 L569.1 240.5 L571.3 240.7 L573.5 240.9 L575.7 241.1 L577.8 241.3 L579.9 241.5 L582.0 241.8 L584.0 242.0 L586.0 242.2" stroke="#255E91" stroke-width="1.55" fill="none" stroke-linejoin="round"/><path d="M117.7 206.4L122.1 206.4M119.9 204.2L119.9 208.6" stroke="#255E91" stroke-width="1.1" fill="none"/><path d="M195.0 210.3L199.4 210.3M197.2 208.1L197.2 212.5" stroke="#255E91" stroke-width="1.1" fill="none"/><path d="M240.9 213.6L245.3 213.6M243.1 211.4L243.1 215.8" stroke="#255E91" stroke-width="1.1" fill="none"/><path d="M273.7 214.4L278.1 214.4M275.9 212.2L275.9 216.6" stroke="#255E91" stroke-width="1.1" fill="none"/><path d="M299.2 216.6L303.6 216.6M301.4 214.4L301.4 218.8" stroke="#255E91" stroke-width="1.1" fill="none"/><path d="M320.1 217.4L324.5 217.4M322.3 215.2L322.3 219.6" stroke="#255E91" stroke-width="1.1" fill="none"/><path d="M337.8 217.6L342.2 217.6M340.0 215.4L340.0 219.8" stroke="#255E91" stroke-width="1.1" fill="none"/><path d="M353.2 218.7L357.6 218.7M355.4 216.5L355.4 220.9" stroke="#255E91" stroke-width="1.1" fill="none"/><path d="M366.7 219.6L371.1 219.6M368.9 217.4L368.9 221.8" stroke="#255E91" stroke-width="1.1" fill="none"/><path d="M378.8 220.0L383.2 220.0M381.0 217.8L381.0 222.2" stroke="#255E91" stroke-width="1.1" fill="none"/><path d="M389.8 221.6L394.2 221.6M392.0 219.4L392.0 223.8" stroke="#255E91" stroke-width="1.1" fill="none"/><path d="M399.8 223.4L404.2 223.4M402.0 221.2L402.0 225.6" stroke="#255E91" stroke-width="1.1" fill="none"/><path d="M409.1 224.1L413.5 224.1M411.3 221.9L411.3 226.3" stroke="#255E91" stroke-width="1.1" fill="none"/><path d="M417.6 225.0L422.0 225.0M419.8 222.8L419.8 227.2" stroke="#255E91" stroke-width="1.1" fill="none"/><path d="M425.6 225.6L430.0 225.6M427.8 223.4L427.8 227.8" stroke="#255E91" stroke-width="1.1" fill="none"/><path d="M433.0 226.1L437.4 226.1M435.2 223.9L435.2 228.3" stroke="#255E91" stroke-width="1.1" fill="none"/><path d="M440.0 226.7L444.4 226.7M442.2 224.5L442.2 228.9" stroke="#255E91" stroke-width="1.1" fill="none"/><path d="M446.6 227.4L451.0 227.4M448.8 225.2L448.8 229.6" stroke="#255E91" stroke-width="1.1" fill="none"/><path d="M452.8 228.0L457.2 228.0M455.0 225.8L455.0 230.2" stroke="#255E91" stroke-width="1.1" fill="none"/><path d="M458.7 228.8L463.1 228.8M460.9 226.6L460.9 231.0" stroke="#255E91" stroke-width="1.1" fill="none"/><path d="M464.4 229.5L468.8 229.5M466.6 227.3L466.6 231.7" stroke="#255E91" stroke-width="1.1" fill="none"/><path d="M469.7 230.1L474.1 230.1M471.9 227.9L471.9 232.3" stroke="#255E91" stroke-width="1.1" fill="none"/><path d="M474.9 230.5L479.3 230.5M477.1 228.3L477.1 232.7" stroke="#255E91" stroke-width="1.1" fill="none"/><path d="M479.8 230.9L484.2 230.9M482.0 228.7L482.0 233.1" stroke="#255E91" stroke-width="1.1" fill="none"/><path d="M484.5 231.3L488.9 231.3M486.7 229.1L486.7 233.5" stroke="#255E91" stroke-width="1.1" fill="none"/><path d="M489.0 231.6L493.4 231.6M491.2 229.4L491.2 233.8" stroke="#255E91" stroke-width="1.1" fill="none"/><path d="M493.4 231.9L497.8 231.9M495.6 229.7L495.6 234.1" stroke="#255E91" stroke-width="1.1" fill="none"/><path d="M497.6 232.3L502.0 232.3M499.8 230.1L499.8 234.5" stroke="#255E91" stroke-width="1.1" fill="none"/><path d="M501.7 232.7L506.1 232.7M503.9 230.5L503.9 234.9" stroke="#255E91" stroke-width="1.1" fill="none"/><path d="M505.6 233.2L510.0 233.2M507.8 231.0L507.8 235.4" stroke="#255E91" stroke-width="1.1" fill="none"/><path d="M509.4 233.6L513.8 233.6M511.6 231.4L511.6 235.8" stroke="#255E91" stroke-width="1.1" fill="none"/><path d="M513.0 234.2L517.4 234.2M515.2 232.0L515.2 236.4" stroke="#255E91" stroke-width="1.1" fill="none"/><path d="M516.6 234.7L521.0 234.7M518.8 232.5L518.8 236.9" stroke="#255E91" stroke-width="1.1" fill="none"/><path d="M520.0 235.2L524.4 235.2M522.2 233.0L522.2 237.4" stroke="#255E91" stroke-width="1.1" fill="none"/><path d="M523.4 235.7L527.8 235.7M525.6 233.5L525.6 237.9" stroke="#255E91" stroke-width="1.1" fill="none"/><path d="M526.6 236.2L531.0 236.2M528.8 234.0L528.8 238.4" stroke="#255E91" stroke-width="1.1" fill="none"/><path d="M529.8 236.6L534.2 236.6M532.0 234.4L532.0 238.8" stroke="#255E91" stroke-width="1.1" fill="none"/><path d="M532.9 237.0L537.3 237.0M535.1 234.8L535.1 239.2" stroke="#255E91" stroke-width="1.1" fill="none"/><path d="M535.9 237.3L540.3 237.3M538.1 235.1L538.1 239.5" stroke="#255E91" stroke-width="1.1" fill="none"/><path d="M538.8 237.6L543.2 237.6M541.0 235.4L541.0 239.8" stroke="#255E91" stroke-width="1.1" fill="none"/><path d="M541.7 238.0L546.1 238.0M543.9 235.8L543.9 240.2" stroke="#255E91" stroke-width="1.1" fill="none"/><path d="M544.5 238.3L548.9 238.3M546.7 236.1L546.7 240.5" stroke="#255E91" stroke-width="1.1" fill="none"/><path d="M547.2 238.6L551.6 238.6M549.4 236.4L549.4 240.8" stroke="#255E91" stroke-width="1.1" fill="none"/><path d="M549.8 238.9L554.2 238.9M552.0 236.7L552.0 241.1" stroke="#255E91" stroke-width="1.1" fill="none"/><path d="M552.4 239.2L556.8 239.2M554.6 237.0L554.6 241.4" stroke="#255E91" stroke-width="1.1" fill="none"/><path d="M555.0 239.5L559.4 239.5M557.2 237.3L557.2 241.7" stroke="#255E91" stroke-width="1.1" fill="none"/><path d="M557.5 239.8L561.9 239.8M559.7 237.6L559.7 242.0" stroke="#255E91" stroke-width="1.1" fill="none"/><path d="M559.9 240.0L564.3 240.0M562.1 237.8L562.1 242.2" stroke="#255E91" stroke-width="1.1" fill="none"/><path d="M562.3 240.2L566.7 240.2M564.5 238.0L564.5 242.4" stroke="#255E91" stroke-width="1.1" fill="none"/><path d="M564.6 240.3L569.0 240.3M566.8 238.1L566.8 242.5" stroke="#255E91" stroke-width="1.1" fill="none"/><path d="M566.9 240.5L571.3 240.5M569.1 238.3L569.1 242.7" stroke="#255E91" stroke-width="1.1" fill="none"/><path d="M569.1 240.7L573.5 240.7M571.3 238.5L571.3 242.9" stroke="#255E91" stroke-width="1.1" fill="none"/><path d="M571.3 240.9L575.7 240.9M573.5 238.7L573.5 243.1" stroke="#255E91" stroke-width="1.1" fill="none"/><path d="M573.5 241.1L577.9 241.1M575.7 238.9L575.7 243.3" stroke="#255E91" stroke-width="1.1" fill="none"/><path d="M575.6 241.3L580.0 241.3M577.8 239.1L577.8 243.5" stroke="#255E91" stroke-width="1.1" fill="none"/><path d="M577.7 241.5L582.1 241.5M579.9 239.3L579.9 243.7" stroke="#255E91" stroke-width="1.1" fill="none"/><path d="M579.8 241.8L584.2 241.8M582.0 239.6L582.0 244.0" stroke="#255E91" stroke-width="1.1" fill="none"/><path d="M581.8 242.0L586.2 242.0M584.0 239.8L584.0 244.2" stroke="#255E91" stroke-width="1.1" fill="none"/><path d="M583.8 242.2L588.2 242.2M586.0 240.0L586.0 244.4" stroke="#255E91" stroke-width="1.1" fill="none"/></g><g><path d="M119.9 151.8 L197.2 160.3 L243.1 169.4 L275.9 176.6 L301.4 184.0 L322.3 193.1 L340.0 201.0 L355.4 205.7 L368.9 207.1 L381.0 209.0 L392.0 211.0 L402.0 214.0 L411.3 214.9 L419.8 216.5 L427.8 217.7 L435.2 218.7 L442.2 219.6 L448.8 220.4 L455.0 221.3 L460.9 222.1 L466.6 223.0 L471.9 223.8 L477.1 224.7 L482.0 225.4 L486.7 225.8 L491.2 226.2 L495.6 226.5 L499.8 226.9 L503.9 227.4 L507.8 227.9 L511.6 228.4 L515.2 228.9 L518.8 229.4 L522.2 229.8 L525.6 230.0 L528.8 230.3 L532.0 230.6 L535.1 230.8 L538.1 231.1 L541.0 231.4 L543.9 231.6 L546.7 231.8 L549.4 232.1 L552.0 232.3 L554.6 232.5 L557.2 232.8 L559.7 233.0 L562.1 233.2 L564.5 233.4 L566.8 233.7 L569.1 233.9 L571.3 234.1 L573.5 234.4 L575.7 234.6 L577.8 234.7 L579.9 234.9 L582.0 235.1 L584.0 235.2 L586.0 235.4" stroke="#9E480E" stroke-width="1.55" fill="none" stroke-linejoin="round"/><path d="M118.4 151.8L121.4 151.8" stroke="#9E480E" stroke-width="2" fill="none"/><path d="M195.7 160.3L198.7 160.3" stroke="#9E480E" stroke-width="2" fill="none"/><path d="M241.6 169.4L244.6 169.4" stroke="#9E480E" stroke-width="2" fill="none"/><path d="M274.4 176.6L277.4 176.6" stroke="#9E480E" stroke-width="2" fill="none"/><path d="M299.9 184.0L302.9 184.0" stroke="#9E480E" stroke-width="2" fill="none"/><path d="M320.8 193.1L323.8 193.1" stroke="#9E480E" stroke-width="2" fill="none"/><path d="M338.5 201.0L341.5 201.0" stroke="#9E480E" stroke-width="2" fill="none"/><path d="M353.9 205.7L356.9 205.7" stroke="#9E480E" stroke-width="2" fill="none"/><path d="M367.4 207.1L370.4 207.1" stroke="#9E480E" stroke-width="2" fill="none"/><path d="M379.5 209.0L382.5 209.0" stroke="#9E480E" stroke-width="2" fill="none"/><path d="M390.5 211.0L393.5 211.0" stroke="#9E480E" stroke-width="2" fill="none"/><path d="M400.5 214.0L403.5 214.0" stroke="#9E480E" stroke-width="2" fill="none"/><path d="M409.8 214.9L412.8 214.9" stroke="#9E480E" stroke-width="2" fill="none"/><path d="M418.3 216.5L421.3 216.5" stroke="#9E480E" stroke-width="2" fill="none"/><path d="M426.3 217.7L429.3 217.7" stroke="#9E480E" stroke-width="2" fill="none"/><path d="M433.7 218.7L436.7 218.7" stroke="#9E480E" stroke-width="2" fill="none"/><path d="M440.7 219.6L443.7 219.6" stroke="#9E480E" stroke-width="2" fill="none"/><path d="M447.3 220.4L450.3 220.4" stroke="#9E480E" stroke-width="2" fill="none"/><path d="M453.5 221.3L456.5 221.3" stroke="#9E480E" stroke-width="2" fill="none"/><path d="M459.4 222.1L462.4 222.1" stroke="#9E480E" stroke-width="2" fill="none"/><path d="M465.1 223.0L468.1 223.0" stroke="#9E480E" stroke-width="2" fill="none"/><path d="M470.4 223.8L473.4 223.8" stroke="#9E480E" stroke-width="2" fill="none"/><path d="M475.6 224.7L478.6 224.7" stroke="#9E480E" stroke-width="2" fill="none"/><path d="M480.5 225.4L483.5 225.4" stroke="#9E480E" stroke-width="2" fill="none"/><path d="M485.2 225.8L488.2 225.8" stroke="#9E480E" stroke-width="2" fill="none"/><path d="M489.7 226.2L492.7 226.2" stroke="#9E480E" stroke-width="2" fill="none"/><path d="M494.1 226.5L497.1 226.5" stroke="#9E480E" stroke-width="2" fill="none"/><path d="M498.3 226.9L501.3 226.9" stroke="#9E480E" stroke-width="2" fill="none"/><path d="M502.4 227.4L505.4 227.4" stroke="#9E480E" stroke-width="2" fill="none"/><path d="M506.3 227.9L509.3 227.9" stroke="#9E480E" stroke-width="2" fill="none"/><path d="M510.1 228.4L513.1 228.4" stroke="#9E480E" stroke-width="2" fill="none"/><path d="M513.7 228.9L516.7 228.9" stroke="#9E480E" stroke-width="2" fill="none"/><path d="M517.3 229.4L520.3 229.4" stroke="#9E480E" stroke-width="2" fill="none"/><path d="M520.7 229.8L523.7 229.8" stroke="#9E480E" stroke-width="2" fill="none"/><path d="M524.1 230.0L527.1 230.0" stroke="#9E480E" stroke-width="2" fill="none"/><path d="M527.3 230.3L530.3 230.3" stroke="#9E480E" stroke-width="2" fill="none"/><path d="M530.5 230.6L533.5 230.6" stroke="#9E480E" stroke-width="2" fill="none"/><path d="M533.6 230.8L536.6 230.8" stroke="#9E480E" stroke-width="2" fill="none"/><path d="M536.6 231.1L539.6 231.1" stroke="#9E480E" stroke-width="2" fill="none"/><path d="M539.5 231.4L542.5 231.4" stroke="#9E480E" stroke-width="2" fill="none"/><path d="M542.4 231.6L545.4 231.6" stroke="#9E480E" stroke-width="2" fill="none"/><path d="M545.2 231.8L548.2 231.8" stroke="#9E480E" stroke-width="2" fill="none"/><path d="M547.9 232.1L550.9 232.1" stroke="#9E480E" stroke-width="2" fill="none"/><path d="M550.5 232.3L553.5 232.3" stroke="#9E480E" stroke-width="2" fill="none"/><path d="M553.1 232.5L556.1 232.5" stroke="#9E480E" stroke-width="2" fill="none"/><path d="M555.7 232.8L558.7 232.8" stroke="#9E480E" stroke-width="2" fill="none"/><path d="M558.2 233.0L561.2 233.0" stroke="#9E480E" stroke-width="2" fill="none"/><path d="M560.6 233.2L563.6 233.2" stroke="#9E480E" stroke-width="2" fill="none"/><path d="M563.0 233.4L566.0 233.4" stroke="#9E480E" stroke-width="2" fill="none"/><path d="M565.3 233.7L568.3 233.7" stroke="#9E480E" stroke-width="2" fill="none"/><path d="M567.6 233.9L570.6 233.9" stroke="#9E480E" stroke-width="2" fill="none"/><path d="M569.8 234.1L572.8 234.1" stroke="#9E480E" stroke-width="2" fill="none"/><path d="M572.0 234.4L575.0 234.4" stroke="#9E480E" stroke-width="2" fill="none"/><path d="M574.2 234.6L577.2 234.6" stroke="#9E480E" stroke-width="2" fill="none"/><path d="M576.3 234.7L579.3 234.7" stroke="#9E480E" stroke-width="2" fill="none"/><path d="M578.4 234.9L581.4 234.9" stroke="#9E480E" stroke-width="2" fill="none"/><path d="M580.5 235.1L583.5 235.1" stroke="#9E480E" stroke-width="2" fill="none"/><path d="M582.5 235.2L585.5 235.2" stroke="#9E480E" stroke-width="2" fill="none"/><path d="M584.5 235.4L587.5 235.4" stroke="#9E480E" stroke-width="2" fill="none"/></g><g><path d="M119.9 87.7 L197.2 104.3 L243.1 114.8 L275.9 122.8 L301.4 128.1 L322.3 133.4 L340.0 136.5 L355.4 139.4 L368.9 143.7 L381.0 146.5 L392.0 149.1 L402.0 151.4 L411.3 153.3 L419.8 155.0 L427.8 156.5 L435.2 157.9 L442.2 159.3 L448.8 160.6 L455.0 162.0 L460.9 163.2 L466.6 164.4 L471.9 165.5 L477.1 166.6 L482.0 167.7 L486.7 168.7 L491.2 169.6 L495.6 170.6 L499.8 171.5 L503.9 172.5 L507.8 173.5 L511.6 174.5 L515.2 175.5 L518.8 176.4 L522.2 177.3 L525.6 178.2 L528.8 179.0 L532.0 179.8 L535.1 180.6 L538.1 181.4 L541.0 182.1 L543.9 182.5 L546.7 183.0 L549.4 183.5 L552.0 183.9 L554.6 184.3 L557.2 184.8 L559.7 185.2 L562.1 185.6 L564.5 186.0 L566.8 186.4 L569.1 186.8 L571.3 187.1 L573.5 187.5 L575.7 187.9 L577.8 188.2 L579.9 188.6 L582.0 188.9 L584.0 189.3 L586.0 189.6" stroke="#636363" stroke-width="1.55" fill="none" stroke-linejoin="round"/></g><g><path d="M119.9 55.2 L197.2 80.8 L243.1 95.1 L275.9 107.2 L301.4 112.8 L322.3 118.1 L340.0 122.6 L355.4 126.1 L368.9 128.8 L381.0 131.2 L392.0 134.0 L402.0 136.3 L411.3 138.3 L419.8 140.3 L427.8 141.6 L435.2 142.9 L442.2 144.1 L448.8 145.3 L455.0 146.4 L460.9 147.5 L466.6 148.5 L471.9 149.5 L477.1 150.5 L482.0 151.5 L486.7 152.7 L491.2 153.8 L495.6 154.9 L499.8 156.0 L503.9 156.9 L507.8 157.8 L511.6 158.7 L515.2 159.6 L518.8 160.5 L522.2 161.3 L525.6 162.1 L528.8 162.8 L532.0 163.6 L535.1 164.3 L538.1 165.0 L541.0 165.8 L543.9 166.5 L546.7 167.3 L549.4 168.0 L552.0 168.7 L554.6 169.4 L557.2 170.1 L559.7 170.8 L562.1 171.4 L564.5 172.0 L566.8 172.7 L569.1 173.3 L571.3 173.9 L573.5 174.5 L575.7 175.0 L577.8 175.6 L579.9 176.2 L582.0 176.7 L584.0 177.3 L586.0 177.8" stroke="#997300" stroke-width="1.55" fill="none" stroke-linejoin="round"/><path d="M119.9 52.3L122.8 55.2L119.9 58.1L117.0 55.2Z" fill="#997300"/><path d="M197.2 77.9L200.1 80.8L197.2 83.7L194.3 80.8Z" fill="#997300"/><path d="M243.1 92.2L246.0 95.1L243.1 98.0L240.2 95.1Z" fill="#997300"/><path d="M275.9 104.3L278.8 107.2L275.9 110.1L273.0 107.2Z" fill="#997300"/><path d="M301.4 109.9L304.3 112.8L301.4 115.7L298.5 112.8Z" fill="#997300"/><path d="M322.3 115.2L325.2 118.1L322.3 121.0L319.4 118.1Z" fill="#997300"/><path d="M340.0 119.7L342.9 122.6L340.0 125.5L337.1 122.6Z" fill="#997300"/><path d="M355.4 123.2L358.3 126.1L355.4 129.0L352.5 126.1Z" fill="#997300"/><path d="M368.9 125.9L371.8 128.8L368.9 131.7L366.0 128.8Z" fill="#997300"/><path d="M381.0 128.3L383.9 131.2L381.0 134.1L378.1 131.2Z" fill="#997300"/><path d="M392.0 131.1L394.9 134.0L392.0 136.9L389.1 134.0Z" fill="#997300"/><path d="M402.0 133.4L404.9 136.3L402.0 139.2L399.1 136.3Z" fill="#997300"/><path d="M411.3 135.4L414.2 138.3L411.3 141.2L408.4 138.3Z" fill="#997300"/><path d="M419.8 137.4L422.7 140.3L419.8 143.2L416.9 140.3Z" fill="#997300"/><path d="M427.8 138.7L430.7 141.6L427.8 144.5L424.9 141.6Z" fill="#997300"/><path d="M435.2 140.0L438.1 142.9L435.2 145.8L432.3 142.9Z" fill="#997300"/><path d="M442.2 141.2L445.1 144.1L442.2 147.0L439.3 144.1Z" fill="#997300"/><path d="M448.8 142.4L451.7 145.3L448.8 148.2L445.9 145.3Z" fill="#997300"/><path d="M455.0 143.5L457.9 146.4L455.0 149.3L452.1 146.4Z" fill="#997300"/><path d="M460.9 144.6L463.8 147.5L460.9 150.4L458.0 147.5Z" fill="#997300"/><path d="M466.6 145.6L469.5 148.5L466.6 151.4L463.7 148.5Z" fill="#997300"/><path d="M471.9 146.6L474.8 149.5L471.9 152.4L469.0 149.5Z" fill="#997300"/><path d="M477.1 147.6L480.0 150.5L477.1 153.4L474.2 150.5Z" fill="#997300"/><path d="M482.0 148.6L484.9 151.5L482.0 154.4L479.1 151.5Z" fill="#997300"/><path d="M486.7 149.8L489.6 152.7L486.7 155.6L483.8 152.7Z" fill="#997300"/><path d="M491.2 150.9L494.1 153.8L491.2 156.7L488.3 153.8Z" fill="#997300"/><path d="M495.6 152.0L498.5 154.9L495.6 157.8L492.7 154.9Z" fill="#997300"/><path d="M499.8 153.1L502.7 156.0L499.8 158.9L496.9 156.0Z" fill="#997300"/><path d="M503.9 154.0L506.8 156.9L503.9 159.8L501.0 156.9Z" fill="#997300"/><path d="M507.8 154.9L510.7 157.8L507.8 160.7L504.9 157.8Z" fill="#997300"/><path d="M511.6 155.8L514.5 158.7L511.6 161.6L508.7 158.7Z" fill="#997300"/><path d="M515.2 156.7L518.1 159.6L515.2 162.5L512.3 159.6Z" fill="#997300"/><path d="M518.8 157.6L521.7 160.5L518.8 163.4L515.9 160.5Z" fill="#997300"/><path d="M522.2 158.4L525.1 161.3L522.2 164.2L519.3 161.3Z" fill="#997300"/><path d="M525.6 159.2L528.5 162.1L525.6 165.0L522.7 162.1Z" fill="#997300"/><path d="M528.8 159.9L531.7 162.8L528.8 165.7L525.9 162.8Z" fill="#997300"/><path d="M532.0 160.7L534.9 163.6L532.0 166.5L529.1 163.6Z" fill="#997300"/><path d="M535.1 161.4L538.0 164.3L535.1 167.2L532.2 164.3Z" fill="#997300"/><path d="M538.1 162.1L541.0 165.0L538.1 167.9L535.2 165.0Z" fill="#997300"/><path d="M541.0 162.9L543.9 165.8L541.0 168.7L538.1 165.8Z" fill="#997300"/><path d="M543.9 163.6L546.8 166.5L543.9 169.4L541.0 166.5Z" fill="#997300"/><path d="M546.7 164.4L549.6 167.3L546.7 170.2L543.8 167.3Z" fill="#997300"/><path d="M549.4 165.1L552.3 168.0L549.4 170.9L546.5 168.0Z" fill="#997300"/><path d="M552.0 165.8L554.9 168.7L552.0 171.6L549.1 168.7Z" fill="#997300"/><path d="M554.6 166.5L557.5 169.4L554.6 172.3L551.7 169.4Z" fill="#997300"/><path d="M557.2 167.2L560.1 170.1L557.2 173.0L554.3 170.1Z" fill="#997300"/><path d="M559.7 167.9L562.6 170.8L559.7 173.7L556.8 170.8Z" fill="#997300"/><path d="M562.1 168.5L565.0 171.4L562.1 174.3L559.2 171.4Z" fill="#997300"/><path d="M564.5 169.1L567.4 172.0L564.5 174.9L561.6 172.0Z" fill="#997300"/><path d="M566.8 169.8L569.7 172.7L566.8 175.6L563.9 172.7Z" fill="#997300"/><path d="M569.1 170.4L572.0 173.3L569.1 176.2L566.2 173.3Z" fill="#997300"/><path d="M571.3 171.0L574.2 173.9L571.3 176.8L568.4 173.9Z" fill="#997300"/><path d="M573.5 171.6L576.4 174.5L573.5 177.4L570.6 174.5Z" fill="#997300"/><path d="M575.7 172.1L578.6 175.0L575.7 177.9L572.8 175.0Z" fill="#997300"/><path d="M577.8 172.7L580.7 175.6L577.8 178.5L574.9 175.6Z" fill="#997300"/><path d="M579.9 173.3L582.8 176.2L579.9 179.1L577.0 176.2Z" fill="#997300"/><path d="M582.0 173.8L584.9 176.7L582.0 179.6L579.1 176.7Z" fill="#997300"/><path d="M584.0 174.4L586.9 177.3L584.0 180.2L581.1 177.3Z" fill="#997300"/><path d="M586.0 174.9L588.9 177.8L586.0 180.7L583.1 177.8Z" fill="#997300"/></g><g><path d="M119.9 84.6 L197.2 100.8 L243.1 111.2 L275.9 118.3 L301.4 121.5 L322.3 129.1 L340.0 132.6 L355.4 136.0 L368.9 138.4 L381.0 140.6 L392.0 142.3 L402.0 146.8 L411.3 148.7 L419.8 153.0 L427.8 155.4 L435.2 157.4 L442.2 158.6 L448.8 160.1 L455.0 160.9 L460.9 162.2 L466.6 163.5 L471.9 164.7 L477.1 165.8 L482.0 166.8 L486.7 167.7 L491.2 168.5 L495.6 169.2 L499.8 170.0 L503.9 170.8 L507.8 171.7 L511.6 172.5 L515.2 173.2 L518.8 174.0 L522.2 174.7 L525.6 175.4 L528.8 176.1 L532.0 176.8 L535.1 177.5 L538.1 178.1 L541.0 178.6 L543.9 179.0 L546.7 179.4 L549.4 179.8 L552.0 180.1 L554.6 180.5 L557.2 180.9 L559.7 181.2 L562.1 181.5 L564.5 181.9 L566.8 182.2 L569.1 182.5 L571.3 182.8 L573.5 183.1 L575.7 183.4 L577.8 183.7 L579.9 184.0 L582.0 184.2 L584.0 184.5 L586.0 184.8" stroke="#264478" stroke-width="1.55" fill="none" stroke-linejoin="round"/><rect x="117.3" y="82.0" width="5.2" height="5.2" fill="#264478"/><rect x="194.6" y="98.2" width="5.2" height="5.2" fill="#264478"/><rect x="240.5" y="108.6" width="5.2" height="5.2" fill="#264478"/><rect x="273.3" y="115.7" width="5.2" height="5.2" fill="#264478"/><rect x="298.8" y="118.9" width="5.2" height="5.2" fill="#264478"/><rect x="319.7" y="126.5" width="5.2" height="5.2" fill="#264478"/><rect x="337.4" y="130.0" width="5.2" height="5.2" fill="#264478"/><rect x="352.8" y="133.4" width="5.2" height="5.2" fill="#264478"/><rect x="366.3" y="135.8" width="5.2" height="5.2" fill="#264478"/><rect x="378.4" y="138.0" width="5.2" height="5.2" fill="#264478"/><rect x="389.4" y="139.7" width="5.2" height="5.2" fill="#264478"/><rect x="399.4" y="144.2" width="5.2" height="5.2" fill="#264478"/><rect x="408.7" y="146.1" width="5.2" height="5.2" fill="#264478"/><rect x="417.2" y="150.4" width="5.2" height="5.2" fill="#264478"/><rect x="425.2" y="152.8" width="5.2" height="5.2" fill="#264478"/><rect x="432.6" y="154.8" width="5.2" height="5.2" fill="#264478"/><rect x="439.6" y="156.0" width="5.2" height="5.2" fill="#264478"/><rect x="446.2" y="157.5" width="5.2" height="5.2" fill="#264478"/><rect x="452.4" y="158.3" width="5.2" height="5.2" fill="#264478"/><rect x="458.3" y="159.6" width="5.2" height="5.2" fill="#264478"/><rect x="464.0" y="160.9" width="5.2" height="5.2" fill="#264478"/><rect x="469.3" y="162.1" width="5.2" height="5.2" fill="#264478"/><rect x="474.5" y="163.2" width="5.2" height="5.2" fill="#264478"/><rect x="479.4" y="164.2" width="5.2" height="5.2" fill="#264478"/><rect x="484.1" y="165.1" width="5.2" height="5.2" fill="#264478"/><rect x="488.6" y="165.9" width="5.2" height="5.2" fill="#264478"/><rect x="493.0" y="166.6" width="5.2" height="5.2" fill="#264478"/><rect x="497.2" y="167.4" width="5.2" height="5.2" fill="#264478"/><rect x="501.3" y="168.2" width="5.2" height="5.2" fill="#264478"/><rect x="505.2" y="169.1" width="5.2" height="5.2" fill="#264478"/><rect x="509.0" y="169.9" width="5.2" height="5.2" fill="#264478"/><rect x="512.6" y="170.6" width="5.2" height="5.2" fill="#264478"/><rect x="516.2" y="171.4" width="5.2" height="5.2" fill="#264478"/><rect x="519.6" y="172.1" width="5.2" height="5.2" fill="#264478"/><rect x="523.0" y="172.8" width="5.2" height="5.2" fill="#264478"/><rect x="526.2" y="173.5" width="5.2" height="5.2" fill="#264478"/><rect x="529.4" y="174.2" width="5.2" height="5.2" fill="#264478"/><rect x="532.5" y="174.9" width="5.2" height="5.2" fill="#264478"/><rect x="535.5" y="175.5" width="5.2" height="5.2" fill="#264478"/><rect x="538.4" y="176.0" width="5.2" height="5.2" fill="#264478"/><rect x="541.3" y="176.4" width="5.2" height="5.2" fill="#264478"/><rect x="544.1" y="176.8" width="5.2" height="5.2" fill="#264478"/><rect x="546.8" y="177.2" width="5.2" height="5.2" fill="#264478"/><rect x="549.4" y="177.5" width="5.2" height="5.2" fill="#264478"/><rect x="552.0" y="177.9" width="5.2" height="5.2" fill="#264478"/><rect x="554.6" y="178.3" width="5.2" height="5.2" fill="#264478"/><rect x="557.1" y="178.6" width="5.2" height="5.2" fill="#264478"/><rect x="559.5" y="178.9" width="5.2" height="5.2" fill="#264478"/><rect x="561.9" y="179.3" width="5.2" height="5.2" fill="#264478"/><rect x="564.2" y="179.6" width="5.2" height="5.2" fill="#264478"/><rect x="566.5" y="179.9" width="5.2" height="5.2" fill="#264478"/><rect x="568.7" y="180.2" width="5.2" height="5.2" fill="#264478"/><rect x="570.9" y="180.5" width="5.2" height="5.2" fill="#264478"/><rect x="573.1" y="180.8" width="5.2" height="5.2" fill="#264478"/><rect x="575.2" y="181.1" width="5.2" height="5.2" fill="#264478"/><rect x="577.3" y="181.4" width="5.2" height="5.2" fill="#264478"/><rect x="579.4" y="181.6" width="5.2" height="5.2" fill="#264478"/><rect x="581.4" y="181.9" width="5.2" height="5.2" fill="#264478"/><rect x="583.4" y="182.2" width="5.2" height="5.2" fill="#264478"/></g>
<text x="42.3" y="10.4" class="t" text-anchor="end">1000</text><text x="42.3" y="101.8" class="t" text-anchor="end">100</text><text x="42.3" y="193.3" class="t" text-anchor="end">10</text><text x="42.3" y="284.9" class="t" text-anchor="end">1</text><text x="52.8" y="299" class="t" text-anchor="middle">10</text><text x="319.2" y="299" class="t" text-anchor="middle">100</text><text x="585.5" y="299" class="t" text-anchor="middle">1000</text><text x="319.1" y="316.1" class="t" text-anchor="middle">Shear rate [s/1]</text><text transform="translate(15.2 138.8) rotate(-90)" class="t" style="font-size:11.9px" text-anchor="middle">Viscosity [mPa.s]</text>
<rect x="2" y="325.4" width="589.8" height="60.4" fill="none" stroke="#6a6a6a" stroke-width="1.4"/><path d="M9.0 335.4H24.5" stroke="#5B9BD5" stroke-width="1.6"/><g transform="translate(16.75 335.40) scale(0.8) translate(-16.75 -335.40)"><path d="M16.8 332.5L19.6 335.4L16.8 338.3L13.8 335.4Z" fill="#5B9BD5"/></g><text x="25.6" y="339.1" class="t">Sonication &amp; Boiling</text><path d="M156.7 335.4H172.2" stroke="#ED7D31" stroke-width="1.6"/><g transform="translate(164.45 335.40) scale(0.8) translate(-164.45 -335.40)"><rect x="161.8" y="332.8" width="5.2" height="5.2" fill="#ED7D31"/></g><text x="173.3" y="339.1" class="t">n propyl alcohol</text><path d="M304.2 335.4H319.7" stroke="#A5A5A5" stroke-width="1.6"/><g transform="translate(311.95 335.40) scale(0.8) translate(-311.95 -335.40)"><path d="M311.9 332.6L314.8 337.6L309.1 337.6Z" fill="#A5A5A5"/></g><text x="320.8" y="339.1" class="t">Sonication</text><path d="M452.0 335.4H467.5" stroke="#FFC000" stroke-width="1.6"/><g transform="translate(459.75 335.40) scale(0.8) translate(-459.75 -335.40)"><path d="M457.9 333.5L461.6 337.3M461.6 333.5L457.9 337.3" stroke="#FFC000" stroke-width="1.2" fill="none"/></g><text x="468.6" y="339.1" class="t">Iso-propyl alcohol</text><path d="M9.0 355.5H24.5" stroke="#4472C4" stroke-width="1.6"/><g transform="translate(16.75 355.50) scale(0.8) translate(-16.75 -355.50)"><path d="M14.6 353.3L18.9 357.7M18.9 353.3L14.6 357.7M16.8 352.9L16.8 358.1" stroke="#4472C4" stroke-width="1" fill="none"/></g><text x="25.6" y="359.2" class="t">CTAB</text><path d="M156.7 355.5H172.2" stroke="#70AD47" stroke-width="1.6"/><g transform="translate(164.45 355.50) scale(0.8) translate(-164.45 -355.50)"><circle cx="164.4" cy="355.5" r="2.8" fill="#70AD47"/></g><text x="173.3" y="359.2" class="t">Acetone</text><path d="M304.2 355.5H319.7" stroke="#255E91" stroke-width="1.6"/><g transform="translate(311.95 355.50) scale(0.8) translate(-311.95 -355.50)"><path d="M309.8 355.5L314.1 355.5M311.9 353.3L311.9 357.7" stroke="#255E91" stroke-width="1.1" fill="none"/></g><text x="320.8" y="359.2" class="t">Vacuum</text><path d="M452.0 355.5H467.5" stroke="#9E480E" stroke-width="1.6"/><g transform="translate(459.75 355.50) scale(0.8) translate(-459.75 -355.50)"><path d="M458.2 355.5L461.2 355.5" stroke="#9E480E" stroke-width="2" fill="none"/></g><text x="468.6" y="359.2" class="t">Heating</text><path d="M9.0 375.6H24.5" stroke="#636363" stroke-width="1.6"/><text x="25.6" y="379.3" class="t">Dry heating</text><path d="M156.7 375.6H172.2" stroke="#997300" stroke-width="1.6"/><g transform="translate(164.45 375.60) scale(0.8) translate(-164.45 -375.60)"><path d="M164.4 372.7L167.3 375.6L164.4 378.5L161.5 375.6Z" fill="#997300"/></g><text x="173.3" y="379.3" class="t">Ethanol</text><path d="M304.2 375.6H319.7" stroke="#264478" stroke-width="1.6"/><g transform="translate(311.95 375.60) scale(0.8) translate(-311.95 -375.60)"><rect x="309.3" y="373.0" width="5.2" height="5.2" fill="#264478"/></g><text x="320.8" y="379.3" class="t">Methanol</text>
</svg></body></html>
